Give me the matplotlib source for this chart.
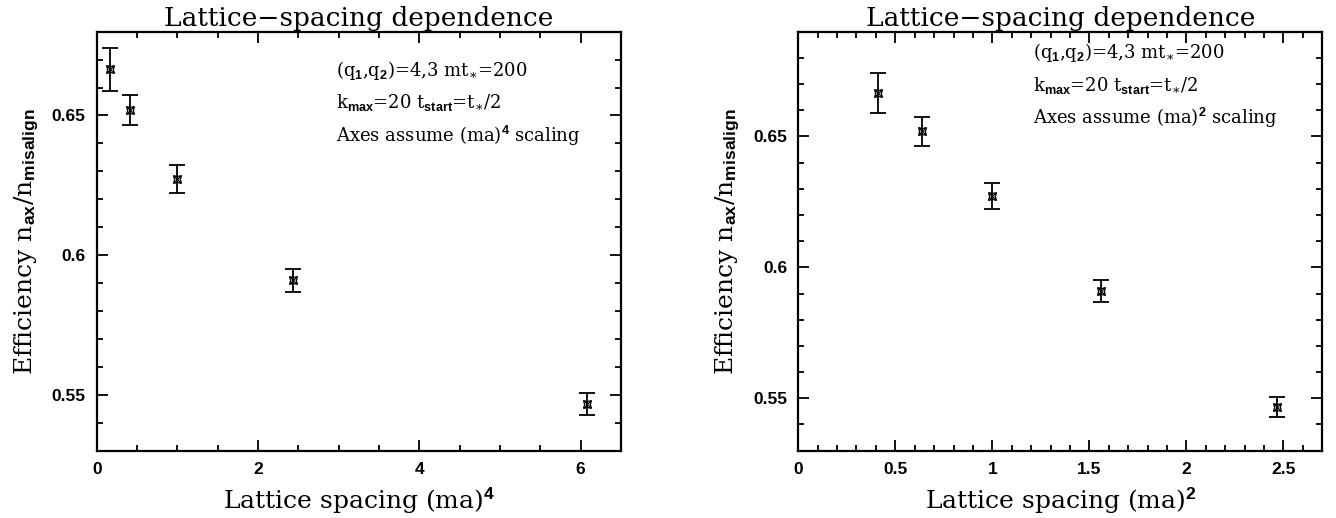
import numpy as np
import matplotlib
matplotlib.use('Agg')
import matplotlib.pyplot as plt
from matplotlib.ticker import MultipleLocator

plt.rcParams['mathtext.fontset'] = 'custom'
plt.rcParams['mathtext.rm'] = 'DejaVu Serif'
plt.rcParams['mathtext.bf'] = 'Liberation Sans:bold'
plt.rcParams['mathtext.it'] = 'DejaVu Serif'

# data: (ma)^2 values, efficiency and errors
ma2 = [0.41, 0.64, 1.0, 1.56, 2.467]
ma4 = [0.168, 0.41, 1.0, 2.43, 6.08]
eff = [0.6665, 0.6520, 0.6272, 0.5910, 0.5466]
err = [0.0077, 0.0055, 0.0051, 0.0041, 0.0039]

serif = 'DejaVu Serif'
tickfont = {'family': 'Liberation Sans', 'weight': 'bold', 'size': 12.5}

fig = plt.figure(figsize=(13.36, 5.18), dpi=100)
ax1 = fig.add_axes([0.0724, 0.13, 0.3924, 0.8088])
ax2 = fig.add_axes([0.5975, 0.13, 0.3922, 0.8088])

panels = [
    (ax1, ma4, (0, 6.5), (0.53, 0.68), 2, 0.5, '4'),
    (ax2, ma2, (0, 2.7), (0.53, 0.69), 0.5, 0.1, '2'),
]

for ax, xs, xl, yl, xmaj, xmin, p in panels:
    ax.errorbar(xs, eff, yerr=err, fmt='none', ecolor='black', elinewidth=1.3,
                capsize=5.5, capthick=1.3)
    ax.plot(xs, eff, linestyle='none', marker=(4, 1, 45), ms=8, mfc='none',
            mec='black', mew=1.0)
    ax.plot(xs, eff, linestyle='none', marker='x', ms=4, mec='black', mew=0.8)
    ax.set_xlim(*xl)
    ax.set_ylim(*yl)
    ax.xaxis.set_major_locator(MultipleLocator(xmaj))
    ax.xaxis.set_minor_locator(MultipleLocator(xmin))
    ax.yaxis.set_major_locator(MultipleLocator(0.05))
    ax.yaxis.set_minor_locator(MultipleLocator(0.01))
    ax.tick_params(which='both', direction='in', top=True, right=True, width=1.3)
    ax.tick_params(which='major', length=8, pad=8)
    ax.tick_params(which='minor', length=4.5)
    for sp in ax.spines.values():
        sp.set_linewidth(1.6)
    ax.xaxis.set_major_formatter(plt.FuncFormatter(lambda v, pos: '%g' % v))
    ax.yaxis.set_major_formatter(plt.FuncFormatter(lambda v, pos: '%g' % round(v, 3)))
    for lab in ax.get_xticklabels() + ax.get_yticklabels():
        lab.set_fontproperties(tickfont)
    ax.set_title('Lattice\u2212spacing dependence', family=serif, fontsize=19, pad=4)
    ax.set_xlabel('Lattice spacing (ma)$^{\\mathbf{%s}}$' % p, family=serif,
                  fontsize=18, labelpad=6)
    ax.set_ylabel('Efficiency n$_{\\mathbf{ax}}$/n$_{\\mathbf{misalign}}$',
                  family=serif, fontsize=18, labelpad=8)

# annotations
notes = [
    '(q$_{\\mathbf{1}}$,q$_{\\mathbf{2}}$)=4,3 mt$_{\\ast}$=200',
    'k$_{\\mathbf{max}}$=20 t$_{\\mathbf{start}}$=t$_{\\ast}$/2',
]
for ax, x0, y0, p in [(ax1, 336, 70, '4'), (ax2, 1033, 52, '2')]:
    lines = notes + ['Axes assume (ma)$^{\\mathbf{%s}}$ scaling' % p]
    for i, t in enumerate(lines):
        fig.text(x0 / 1336, 1 - (y0 + 33 * i) / 518, t, family=serif,
                 fontsize=13, va='center', ha='left')

fig.savefig('out.png', dpi=100)
